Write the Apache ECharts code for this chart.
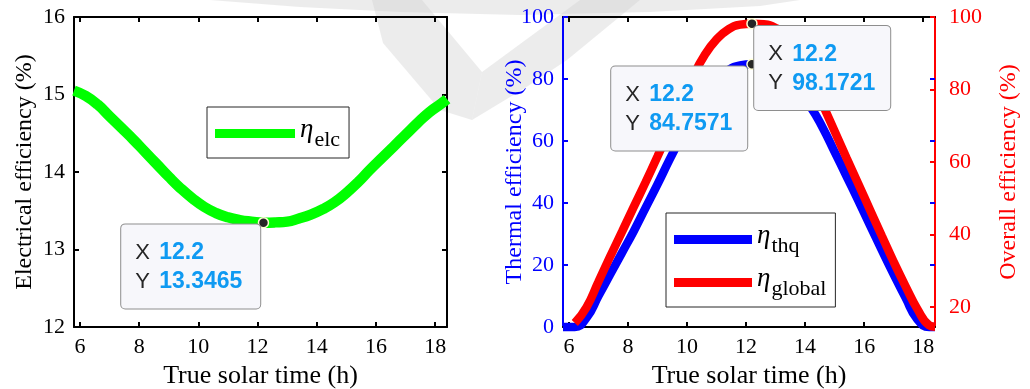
<!DOCTYPE html>
<html>
<head>
<meta charset="utf-8">
<script src="https://cdn.jsdelivr.net/npm/echarts@6/dist/echarts.min.js"></script>
<style>
  html, body { margin: 0; padding: 0; background: #ffffff; }
  #chart { width: 1030px; height: 389px; }
</style>
</head>
<body>
<div id="chart"></div>
<script>
// ---- data: efficiencies of the PV/T collector over the day ----
const hours = [5.8, 6.2, 6.6, 7.0, 7.4, 7.8, 8.2, 8.6, 9.0, 9.4, 9.8, 10.2, 10.6, 11.0, 11.4, 11.8, 12.2,
               12.6, 13.0, 13.4, 13.8, 14.2, 14.6, 15.0, 15.4, 15.8, 16.2, 16.6, 17.0, 17.4, 17.8, 18.2, 18.4];

const elcValues = [15.05, 14.98, 14.87, 14.72, 14.57, 14.42, 14.26, 14.10, 13.94, 13.79, 13.66, 13.55, 13.47, 13.415, 13.38, 13.36, 13.3465,
                   13.35, 13.36, 13.40, 13.45, 13.52, 13.61, 13.73, 13.87, 14.03, 14.18, 14.33, 14.48, 14.63, 14.77, 14.88, 14.94];

const thqValues = [0, 0, 3, 10, 17, 24, 31, 38.5, 46, 53.8, 61.2, 68.3, 74.6, 79.6, 82.9, 84.4, 84.7571,
                   84.2, 82.3, 79.3, 75.5, 70.8, 64.2, 56.5, 48.7, 40.8, 32.8, 24.8, 17, 9.5, 2.5, 0, 0];

// overall efficiency is only recorded from 6.2 h on
const globalHours = hours.slice(1);
const globalValues = [15.6, 20, 27, 34, 40.8, 47.7, 54.5, 61.5, 68.7, 76, 83.5, 89.5, 93.8, 96.6, 97.9, 98.1721,
                      98.0, 97.0, 94.5, 89.5, 83, 75.8, 68.5, 61.2, 54, 46.8, 39.6, 32.5, 25.8, 19.5, 15.0, 14.6];

// data tips at the solar noon peak
const tipHour = 12.2;
const elcTip = 13.3465;
const thqTip = 84.7571;
const globalTip = 98.1721;

// axis ticks
const hourTicks = [6, 8, 10, 12, 14, 16, 18];
const globalTicks = [20, 40, 60, 80, 100];

// ---- drawing ----
const SERIF = '"Liberation Serif", "Times New Roman", serif';
const SANS = '"Liberation Sans", Arial, sans-serif';
const HOUR_MIN = 5.8, HOUR_MAX = 18.4;

const pairs = (xs, ys) => xs.map((x, i) => [x, ys[i]]);

function hourAxes(gridIndex) {
  const base = {
    gridIndex, type: 'value', min: HOUR_MIN, max: HOUR_MAX,
    axisLine: { onZero: false, lineStyle: { color: '#000', width: 2 } },
    axisTick: { inside: true, length: 5, customValues: hourTicks, lineStyle: { color: '#000', width: 2 } },
    splitLine: { show: false }
  };
  return [
    Object.assign({}, base, {
      position: 'bottom',
      axisLabel: { customValues: hourTicks, color: '#000', fontFamily: SERIF, fontSize: 22, margin: 9 },
      name: 'True solar time (h)', nameLocation: 'middle', nameGap: 36, nameMoveOverlap: false,
      nameTextStyle: { color: '#000', fontFamily: SERIF, fontSize: 26 }
    }),
    Object.assign({}, base, { position: 'top', axisLabel: { show: false } })
  ];
}

// MATLAB-style data tip: dark dot plus a boxed X/Y readout
function tipPoint(x, y, boxWidth, pos) {
  return {
    symbol: 'circle', symbolSize: 10, silent: true,
    itemStyle: { color: '#262626', borderColor: '#ffffd2', borderWidth: 1.5 },
    label: {
      show: true, position: pos, align: 'left', verticalAlign: 'top',
      formatter: '{k|X}{v|' + x + '}\n{k|Y}{v|' + y + '}',
      backgroundColor: '#f7f7fb', borderColor: '#8e8e8e', borderWidth: 1, borderRadius: 4,
      padding: [14, 8, 12, 14], width: boxWidth - 22,
      rich: {
        k: { fontFamily: SANS, fontSize: 22, color: '#262626', lineHeight: 29, width: 24 },
        v: { fontFamily: SANS, fontSize: 23, fontWeight: 'bold', color: '#0f9af2', lineHeight: 29 }
      }
    },
    data: [{ coord: [x, y], value: y }]
  };
}

const legendRich = {
  eta: { fontFamily: SERIF, fontStyle: 'italic', fontSize: 27, color: '#000', padding: [0, 1, 8, 0], verticalAlign: 'top' },
  sub: { fontFamily: SERIF, fontSize: 22, color: '#000', verticalAlign: 'bottom' }
};

function legendBox(names, left, top, itemWidth) {
  return {
    data: names, left, top, orient: 'vertical',
    icon: 'rect', itemWidth, itemHeight: 9, itemGap: 8,
    padding: [9, 9, 7, 8],
    backgroundColor: '#ffffff', borderColor: '#262626', borderWidth: 1, borderRadius: 0,
    selectedMode: false,
    itemStyle: { borderWidth: 0 },
    formatter: n => '{eta|η}{sub|' + n + '}',
    textStyle: { rich: legendRich }
  };
}

// faint grey emblem printed behind the top of the figure
const emblemStyle = { fill: '#d4d4d4', opacity: 0.45 };
const emblem = [
  { type: 'polygon', z: -1, silent: true, style: emblemStyle,
    shape: { points: [[210, 0], [800, 0], [760, 6], [650, 12], [520, 15], [400, 12], [300, 7]] } },
  { type: 'polygon', z: -1, silent: true, style: emblemStyle,
    shape: { points: [[372, 0], [422, 0], [482, 72], [472, 120], [440, 110], [383, 43]] } },
  { type: 'polygon', z: -1, silent: true, style: emblemStyle,
    shape: { points: [[472, 120], [482, 72], [580, 0], [640, 0], [567, 60], [525, 88]] } }
];

const chart = echarts.init(document.getElementById('chart'), null, { renderer: 'canvas' });

chart.setOption({
  animation: false,
  backgroundColor: '#ffffff',
  graphic: emblem,
  grid: [
    { left: 74, top: 17, width: 373, height: 310, outerBoundsMode: 'none', containLabel: false },
    { left: 563, top: 17, width: 372, height: 310, outerBoundsMode: 'none', containLabel: false }
  ],
  xAxis: [...hourAxes(0), ...hourAxes(1)],
  yAxis: [
    { // electrical efficiency
      gridIndex: 0, type: 'value', min: 12, max: 16, interval: 1, position: 'left',
      axisLine: { onZero: false, lineStyle: { color: '#000', width: 2 } },
      axisTick: { inside: true, length: 5, lineStyle: { color: '#000', width: 2 } },
      axisLabel: { color: '#000', fontFamily: SERIF, fontSize: 22, margin: 9 },
      splitLine: { show: false },
      name: 'Electrical efficiency (%)', nameLocation: 'middle', nameGap: 37, nameMoveOverlap: false,
      nameTextStyle: { color: '#000', fontFamily: SERIF, fontSize: 24 }
    },
    {
      gridIndex: 0, type: 'value', min: 12, max: 16, interval: 1, position: 'right',
      axisLine: { onZero: false, lineStyle: { color: '#000', width: 2 } },
      axisTick: { inside: true, length: 5, lineStyle: { color: '#000', width: 2 } },
      axisLabel: { show: false }, splitLine: { show: false }
    },
    { // thermal efficiency
      gridIndex: 1, type: 'value', min: 0, max: 100, interval: 20, position: 'left',
      axisLine: { onZero: false, lineStyle: { color: '#0000ff', width: 2 } },
      axisTick: { inside: true, length: 5, lineStyle: { color: '#0000ff', width: 2 } },
      axisLabel: { color: '#0000ff', fontFamily: SERIF, fontSize: 22, margin: 9 },
      splitLine: { show: false },
      name: 'Thermal efficiency (%)', nameLocation: 'middle', nameGap: 36, nameMoveOverlap: false,
      nameTextStyle: { color: '#0000ff', fontFamily: SERIF, fontSize: 24 }
    },
    {
      gridIndex: 1, type: 'value', min: 0, max: 100, interval: 20, position: 'right',
      axisLine: { show: false },
      axisTick: { inside: true, length: 5, lineStyle: { color: '#0000ff', width: 2 } },
      axisLabel: { show: false }, splitLine: { show: false }
    },
    { // overall efficiency
      gridIndex: 1, type: 'value', min: 14.5, max: 100, position: 'right',
      axisLine: { onZero: false, lineStyle: { color: '#ff0000', width: 2 } },
      axisTick: { inside: true, length: 5, customValues: globalTicks, lineStyle: { color: '#ff0000', width: 2 } },
      axisLabel: { customValues: globalTicks, color: '#ff0000', fontFamily: SERIF, fontSize: 22, margin: 14 },
      splitLine: { show: false },
      name: 'Overall efficiency (%)', nameLocation: 'middle', nameGap: 62, nameMoveOverlap: false,
      nameTextStyle: { color: '#ff0000', fontFamily: SERIF, fontSize: 24 }
    }
  ],
  legend: [
    legendBox(['elc'], 207, 107, 80),
    legendBox(['thq', 'global'], 666, 213, 78)
  ],
  series: [
    {
      name: 'elc', type: 'line', xAxisIndex: 0, yAxisIndex: 0,
      data: pairs(hours, elcValues), smooth: 0.5, showSymbol: false, clip: false,
      color: '#00ff00', lineStyle: { color: '#00ff00', width: 10.5 },
      markPoint: tipPoint(tipHour, elcTip, 139, [-136.5, 7.5])
    },
    {
      name: 'thq', type: 'line', xAxisIndex: 2, yAxisIndex: 2,
      data: pairs(hours, thqValues), smooth: 0.5, showSymbol: false, clip: false,
      color: '#0000ff', lineStyle: { color: '#0000ff', width: 8.5 },
      markPoint: tipPoint(tipHour, thqTip, 136, [-135, 8])
    },
    {
      name: 'global', type: 'line', xAxisIndex: 2, yAxisIndex: 4,
      data: pairs(globalHours, globalValues), smooth: 0.5, showSymbol: false, clip: false,
      color: '#ff0000', lineStyle: { color: '#ff0000', width: 8.5 },
      markPoint: tipPoint(tipHour, globalTip, 136, [8, 8])
    }
  ]
});
</script>
</body>
</html>
